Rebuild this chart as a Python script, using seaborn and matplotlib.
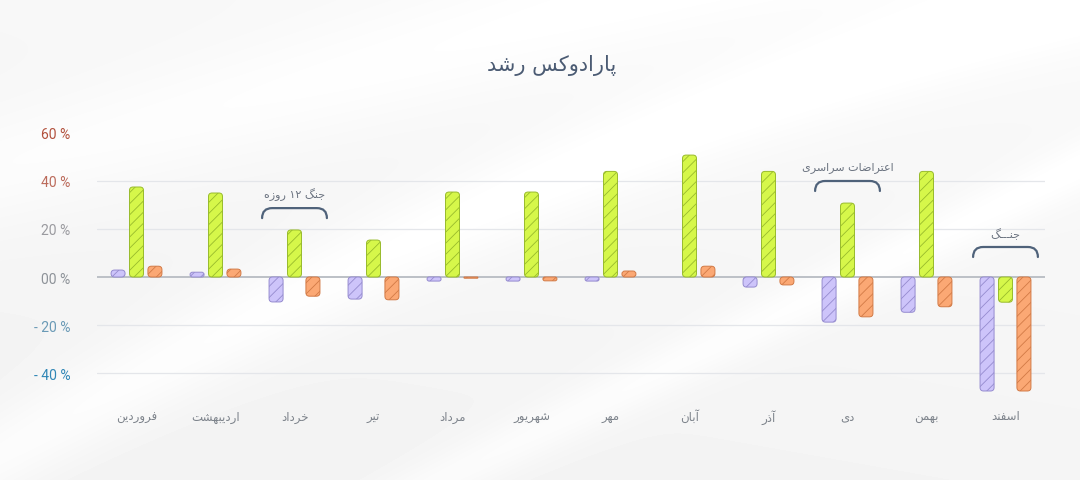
import re
import numpy as np
import pandas as pd
import seaborn as sns
import matplotlib.pyplot as plt
from matplotlib.patches import FancyBboxPatch, PathPatch
from matplotlib.path import Path

sns.set_theme(style="white")
plt.rcParams['font.family'] = ['DejaVu Sans']
plt.rcParams['hatch.linewidth'] = 0.6

# داده‌ها
title = "پارادوکس رشد"
months = ["فروردین", "اردیبهشت", "خرداد", "تیر", "مرداد", "شهریور",
          "مهر", "آبان", "آذر", "دی", "بهمن", "اسفند"]
series_a = [2.9, 2.0, -10.4, -9.2, -1.7, -1.7, -1.7, 0.0, -4.2, -18.8, -14.7, -47.5]
series_b = [37.5, 35.0, 19.6, 15.4, 35.4, 35.4, 44.0, 50.8, 44.0, 30.8, 44.0, -10.5]
series_c = [4.5, 3.3, -8.0, -9.5, -0.5, -1.6, 2.5, 4.5, -3.3, -16.6, -12.4, -47.5]
series_names = ["a", "b", "c"]
fill_colors = ["#cdc4fa", "#d6f74a", "#fba874"]
edge_colors = ["#958bcf", "#98bb2c", "#d27a46"]

yticks = [-40, -20, 0, 20, 40, 60]
ytick_labels = ["- 40 %", "- 20 %", "00 %", "20 %", "40 %", "60 %"]
ytick_colors = ["#2f86b6", "#6a9ab6", "#8d9298", "#9a9a9f", "#bb6a5a", "#b2503c"]

ann_months = ["خرداد", "دی", "اسفند"]
ann_labels = ["جنگ ۱۲ روزه", "اعتراضات سراسری", "جنـــگ"]
ann_top = [28.7, 40.0, 12.5]

# شکل‌دهی حروف فارسی (matplotlib خودش حروف را به هم نمی‌چسباند)
FORMS = {
    '\u0627': ('\uFE8D', '\uFE8E', None, None),
    '\u0622': ('\uFE81', '\uFE82', None, None),
    '\u0628': ('\uFE8F', '\uFE90', '\uFE91', '\uFE92'),
    '\u067E': ('\uFB56', '\uFB57', '\uFB58', '\uFB59'),
    '\u062A': ('\uFE95', '\uFE96', '\uFE97', '\uFE98'),
    '\u062C': ('\uFE9D', '\uFE9E', '\uFE9F', '\uFEA0'),
    '\u062E': ('\uFEA5', '\uFEA6', '\uFEA7', '\uFEA8'),
    '\u062F': ('\uFEA9', '\uFEAA', None, None),
    '\u0630': ('\uFEAB', '\uFEAC', None, None),
    '\u0631': ('\uFEAD', '\uFEAE', None, None),
    '\u0632': ('\uFEAF', '\uFEB0', None, None),
    '\u0633': ('\uFEB1', '\uFEB2', '\uFEB3', '\uFEB4'),
    '\u0634': ('\uFEB5', '\uFEB6', '\uFEB7', '\uFEB8'),
    '\u0636': ('\uFEBD', '\uFEBE', '\uFEBF', '\uFEC0'),
    '\u0639': ('\uFEC9', '\uFECA', '\uFECB', '\uFECC'),
    '\u0641': ('\uFED1', '\uFED2', '\uFED3', '\uFED4'),
    '\u06A9': ('\uFB8E', '\uFB8F', '\uFB90', '\uFB91'),
    '\u06AF': ('\uFB92', '\uFB93', '\uFB94', '\uFB95'),
    '\u0645': ('\uFEE1', '\uFEE2', '\uFEE3', '\uFEE4'),
    '\u0646': ('\uFEE5', '\uFEE6', '\uFEE7', '\uFEE8'),
    '\u0647': ('\uFEE9', '\uFEEA', '\uFEEB', '\uFEEC'),
    '\u0648': ('\uFEED', '\uFEEE', None, None),
    '\u06CC': ('\uFBFC', '\uFBFD', '\uFBFE', '\uFBFF'),
    '\u0640': ('\u0640', '\u0640', '\u0640', '\u0640'),
}


def fa(text):
    text = text.replace('\u064A', '\u06CC').replace('\u0643', '\u06A9')
    out = []
    for i, c in enumerate(text):
        if c not in FORMS:
            out.append(c)
            continue
        prev = text[i - 1] if i > 0 else None
        nxt = text[i + 1] if i + 1 < len(text) else None
        jp = prev in FORMS and FORMS[prev][2] is not None
        jn = FORMS[c][2] is not None and nxt in FORMS
        iso, fin, ini, med = FORMS[c]
        out.append(med if (jp and jn) else fin if jp else ini if jn else iso)
    s = ''.join(out)[::-1]
    return re.sub(r'[0-9\u06F0-\u06F9]+', lambda m: m.group(0)[::-1], s)


labels = [fa(m) for m in months]
df = pd.DataFrame({
    "month": labels * 3,
    "series": np.repeat(series_names, len(months)),
    "value": series_a + series_b + series_c,
})

fig = plt.figure(figsize=(10.8, 4.81), dpi=100)

# پس‌زمینه خاکستری روشن با نوارهای سفید
H, W = 481, 1080
xx, yy = np.meshgrid(np.linspace(0, 1, W), np.linspace(0, 1, H))
img = 0.95 + 0.02 * (1 - yy) + 0.008 * xx
img += 0.035 * np.exp(-((yy - (0.95 - 1.3 * xx + 0.35 * xx ** 2)) / 0.10) ** 2)
img += 0.03 * np.exp(-((yy - (1.45 - 1.1 * xx)) / 0.06) ** 2)
img += 0.025 * np.exp(-((yy - (0.35 - 0.6 * xx)) / 0.12) ** 2)
img = np.clip(img, 0, 1)
bg = fig.add_axes([0, 0, 1, 1], zorder=0)
bg.imshow(img, cmap="gray", vmin=0, vmax=1, aspect="auto", interpolation="bilinear")
bg.axis("off")

ax = fig.add_axes([97 / 1080, 1 - 398 / 481, 948 / 1080, 264 / 481], zorder=1)
ax.set_facecolor("none")

sns.barplot(data=df, x="month", y="value", hue="series", order=labels,
            hue_order=series_names, palette=fill_colors, width=0.7, gap=0.24,
            errorbar=None, legend=False, ax=ax)

ax.set_xlim(-0.5, len(months) - 0.5)
ax.set_ylim(-50, 60)
fig.canvas.draw()
px_x = ax.bbox.width / (len(months))
px_y = ax.bbox.height / 110
aspect = px_x / px_y
r = 3.5 / px_x

bars = list(ax.patches)
for i, p in enumerate(bars):
    k = i // len(months)
    x0, w = p.get_x(), p.get_width()
    y0 = min(p.get_y(), p.get_y() + p.get_height())
    h = abs(p.get_height())
    p.remove()
    if h == 0:
        continue
    rr = min(r, w / 2, h / aspect / 2)
    fb = FancyBboxPatch((x0, y0), w, h,
                        boxstyle=f"round,pad=0,rounding_size={rr}",
                        mutation_aspect=aspect, facecolor=fill_colors[k],
                        edgecolor=edge_colors[k], linewidth=0.7, hatch="///",
                        zorder=3)
    ax.add_patch(fb)

# خطوط شبکه
for t in yticks:
    if t == 0:
        ax.axhline(0, color="#bcc0c6", lw=1.4, zorder=2)
    elif t != 60:
        ax.axhline(t, color="#e4e6ea", lw=0.9, zorder=1)

sns.despine(ax=ax, left=True, bottom=True)
ax.set_xlabel("")
ax.set_ylabel("")
ax.set_yticks(yticks)
ax.set_yticklabels(ytick_labels, fontsize=10, family=["Roboto", "DejaVu Sans"])
for lab, c in zip(ax.get_yticklabels(), ytick_colors):
    lab.set_color(c)
ax.tick_params(axis="y", length=0, pad=19)
ax.tick_params(axis="x", length=0, pad=9, labelsize=8.5, labelcolor="#7d838b")

# براکت‌های رویدادها
for m, lab, top in zip(ann_months, ann_labels, ann_top):
    xc = months.index(m)
    half = 0.41
    dx = 10 / px_x
    drop = 10 / px_y
    x0, x1 = xc - half, xc + half
    verts = [(x0, top - drop), (x0, top), (x0 + dx, top), (x1 - dx, top),
             (x1, top), (x1, top - drop)]
    codes = [Path.MOVETO, Path.CURVE3, Path.CURVE3, Path.LINETO,
             Path.CURVE3, Path.CURVE3]
    ax.add_patch(PathPatch(Path(verts, codes), facecolor="none",
                           edgecolor="#4f627a", lw=1.6, zorder=4,
                           capstyle="round"))
    ax.text(xc, top + 6, fa(lab), ha="center", va="center", fontsize=8,
            color="#6b7380", zorder=4)

fig.text(552 / 1080, 1 - 66 / 481, fa(title), ha="center", va="center",
         fontsize=15, color="#4b5b73")

fig.savefig("out.png", dpi=100)
